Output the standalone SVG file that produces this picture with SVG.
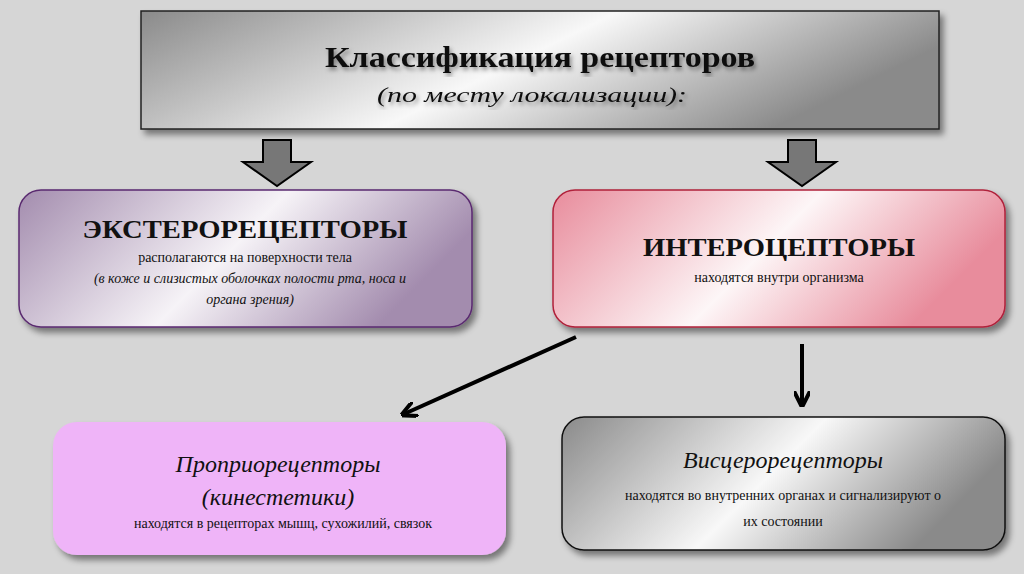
<svg xmlns="http://www.w3.org/2000/svg" width="1024" height="574" viewBox="0 0 1024 574">
<style>
text{font-family:"Liberation Serif","Times New Roman",serif;text-anchor:middle;fill:#111}
.h{font-weight:bold}
.s{font-size:14px}
.i{font-style:italic}
.c{stroke:#000;stroke-width:4;fill:none}
</style>
<defs>
<filter id="sh" x="-10%" y="-10%" width="130%" height="140%"><feDropShadow dx="4" dy="5" stdDeviation="3" flood-color="#000" flood-opacity="0.45"/></filter>
<filter id="ts"><feDropShadow dx="2" dy="3" stdDeviation="2" flood-color="#000" flood-opacity="0.4"/></filter>
<linearGradient id="gGray" x1="0" y1="0" x2="1" y2="0.3"><stop offset="0" stop-color="#8a8a8a"/><stop offset="0.55" stop-color="#f8f8f8"/><stop offset="1" stop-color="#8a8a8a"/></linearGradient>
<linearGradient id="gPur" x1="0" y1="0" x2="1" y2="0.3"><stop offset="0" stop-color="#a38cae"/><stop offset="0.55" stop-color="#f6f3f7"/><stop offset="1" stop-color="#a38cae"/></linearGradient>
<linearGradient id="gPink" x1="0" y1="0" x2="1" y2="0.3"><stop offset="0" stop-color="#e88c9c"/><stop offset="0.55" stop-color="#fdf6f7"/><stop offset="1" stop-color="#e88c9c"/></linearGradient>
<marker id="ah" viewBox="0 0 10 10" refX="8" refY="5" markerWidth="4" markerHeight="4" orient="auto"><path d="M0,0 L10,5 L0,10" fill="none" stroke="#000" stroke-width="2.5"/></marker>
</defs>
<rect width="1024" height="574" fill="#d6d6d6"/>
<g id="title">
<rect x="141" y="11" width="798" height="118" fill="url(#gGray)" stroke="#222" stroke-width="1.5" filter="url(#sh)"/>
<text x="540" y="67" class="h" font-size="30" textLength="430" lengthAdjust="spacingAndGlyphs" filter="url(#ts)">Классификация рецепторов</text>
<text x="532" y="102" class="i" font-size="22" textLength="310" lengthAdjust="spacingAndGlyphs" filter="url(#ts)">(по месту локализации):</text>
</g>
<g id="connectors">
<path d="M263,140 H291 V162 H311 L277,186 L243,162 H263 Z" fill="#777" stroke="#000" stroke-width="2"/>
<path d="M788,140 H816 V162 H836 L802,186 L768,162 H788 Z" fill="#777" stroke="#000" stroke-width="2"/>
<line x1="576" y1="337" x2="404" y2="414" class="c" marker-end="url(#ah)"/>
<line x1="802" y1="344" x2="802" y2="404" class="c" marker-end="url(#ah)"/>
</g>
<g id="extero">
<rect x="19" y="190" width="453" height="137" rx="22" fill="url(#gPur)" stroke="#5a2a70" stroke-width="1.5" filter="url(#sh)"/>
<text x="245" y="238" class="h" font-size="26" textLength="325" lengthAdjust="spacingAndGlyphs">ЭКСТЕРОРЕЦЕПТОРЫ</text>
<text x="245" y="262" class="s">располагаются на поверхности тела</text>
<text x="250" y="283" class="s i">(в коже и слизистых оболочках полости рта, носа и</text>
<text x="250" y="304" class="s i">органа зрения)</text>
</g>
<g id="intero">
<rect x="553" y="190" width="452" height="137" rx="22" fill="url(#gPink)" stroke="#b0203a" stroke-width="1.5" filter="url(#sh)"/>
<text x="779" y="256" class="h" font-size="26" textLength="272" lengthAdjust="spacingAndGlyphs">ИНТЕРОЦЕПТОРЫ</text>
<text x="779" y="282" class="s">находятся внутри организма</text>
</g>
<g id="proprio">
<rect x="53" y="422" width="453" height="133" rx="24" fill="#efb4f8" filter="url(#sh)"/>
<text x="278" y="472" class="i" font-size="24">Проприорецепторы</text>
<text x="278" y="505" class="i" font-size="24">(кинестетики)</text>
<text x="283" y="528" class="s">находятся в рецепторах мышц, сухожилий, связок</text>
</g>
<g id="viscero">
<rect x="562" y="417" width="443" height="133" rx="22" fill="url(#gGray)" stroke="#111" stroke-width="1.5" filter="url(#sh)"/>
<text x="783" y="468" class="i" font-size="24">Висцерорецепторы</text>
<text x="783" y="500" class="s">находятся во внутренних органах и сигнализируют о</text>
<text x="783" y="526" class="s">их состоянии</text>
</g>
</svg>
